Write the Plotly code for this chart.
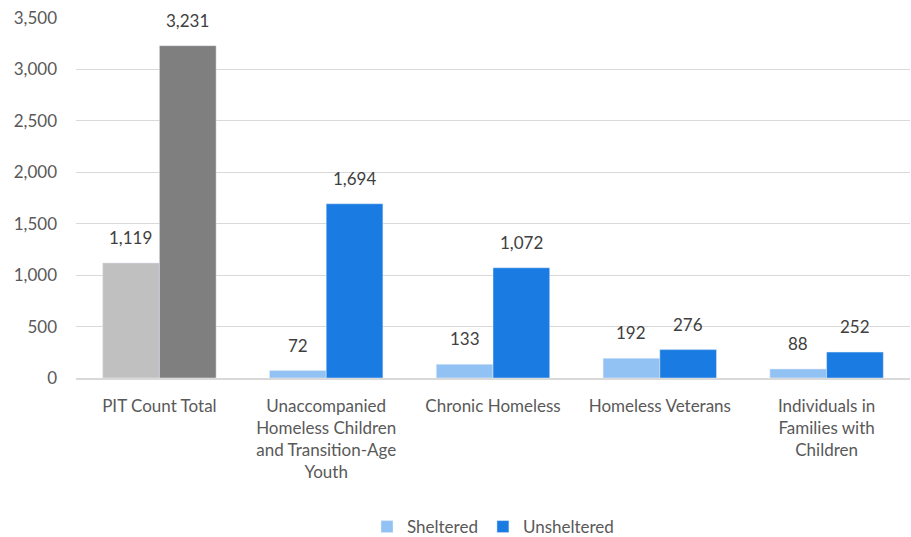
import plotly.graph_objects as go

categories = ["PIT Count Total",
              "Unaccompanied<br>Homeless Children<br>and Transition-Age<br>Youth",
              "Chronic Homeless",
              "Homeless Veterans",
              "Individuals in<br>Families with<br>Children"]
sheltered = [1119, 72, 133, 192, 88]
unsheltered = [3231, 1694, 1072, 276, 252]
sheltered_colors = ["#c0c0c0", "#92c2f3", "#92c2f3", "#92c2f3", "#92c2f3"]
unsheltered_colors = ["#7f7f7f", "#1a7be2", "#1a7be2", "#1a7be2", "#1a7be2"]
series_names = ["Sheltered", "Unsheltered"]

FONT = "Lato, 'Open Sans', sans-serif"
fig = go.Figure()
fig.add_trace(go.Bar(x=categories, y=sheltered, marker_color=sheltered_colors,
                     offsetgroup="s", showlegend=False))
fig.add_trace(go.Bar(x=categories, y=unsheltered, marker_color=unsheltered_colors,
                     offsetgroup="u", showlegend=False))
fig.add_trace(go.Bar(x=[categories[0]], y=[None], marker_color=sheltered_colors[1],
                     offsetgroup="s", name=series_names[0]))
fig.add_trace(go.Bar(x=[categories[0]], y=[None], marker_color=unsheltered_colors[1],
                     offsetgroup="u", name=series_names[1]))

half_bar_px = 28.5
for cat, sv, uv in zip(categories, sheltered, unsheltered):
    for val, sh in ((sv, -half_bar_px), (uv, half_bar_px)):
        fig.add_annotation(x=cat, y=val, xref="x", yref="y", text=f"{val:,}",
                           showarrow=False, yanchor="bottom", xshift=sh, yshift=13,
                           font=dict(size=17, color="#404040", family=FONT))

fig.update_layout(
    width=911, height=537,
    margin=dict(l=76, r=1, t=18, b=159, autoexpand=False),
    barmode="group", bargap=0.32, bargroupgap=0,
    plot_bgcolor="white", paper_bgcolor="white",
    font=dict(family=FONT, size=17, color="#595959"),
    legend=dict(orientation="h", x=0.5, xanchor="center", y=-0.414, yanchor="middle",
                font=dict(size=17, color="#595959")),
    yaxis=dict(range=[0, 3500], dtick=500,
               tickformat=",d", gridcolor="#d9d9d9",
               gridwidth=1, zeroline=False, ticks="", ticklen=0, ticklabelstandoff=18,
               automargin=False),
    xaxis=dict(showline=True, linecolor="#d9d9d9", linewidth=1.5, ticks="",
               tickangle=0, ticklabelstandoff=12, automargin=False),
)
fig.write_html("out.html", config={"displayModeBar": False},
               post_script="document.body.style.margin='0';document.body.style.overflow='hidden';")
